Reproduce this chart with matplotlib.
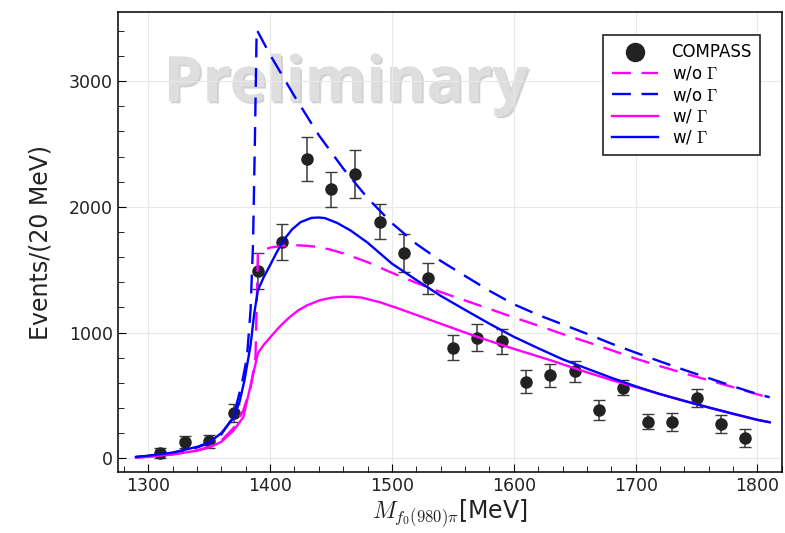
#! /usr/bin/env python
import numpy as np
import matplotlib
matplotlib.use('Agg')
import matplotlib.pyplot as plt
import matplotlib.patheffects as pe
from matplotlib.lines import Line2D
from matplotlib.ticker import MultipleLocator

# COMPASS data points (20 MeV bins)
mass = [1310, 1330, 1350, 1370, 1390, 1410, 1430, 1450, 1470, 1490, 1510, 1530, 1550,
        1570, 1590, 1610, 1630, 1650, 1670, 1690, 1710, 1730, 1750, 1770, 1790]
events = [40, 130, 135, 360, 1490, 1720, 2380, 2140, 2260, 1880, 1630, 1430, 880,
          960, 930, 610, 660, 690, 380, 560, 290, 290, 480, 270, 160]
errors = [40, 50, 50, 70, 140, 140, 175, 140, 190, 140, 150, 120, 100,
          110, 100, 90, 90, 80, 80, 60, 60, 70, 70, 70, 70]

# w/o Gamma, magenta (dashed)
m_nog_x = [1290, 1300, 1320, 1340, 1350, 1360, 1370, 1378, 1384, 1388, 1389, 1390, 1400,
           1410, 1420, 1430, 1440, 1450, 1460, 1480, 1500, 1520, 1540, 1560, 1580, 1600,
           1620, 1640, 1660, 1680, 1700, 1720, 1740, 1760, 1780, 1800, 1810]
m_nog_y = [5, 12, 30, 62, 90, 140, 240, 380, 560, 800, 1200, 1640, 1675,
           1690, 1695, 1690, 1680, 1658, 1630, 1560, 1475, 1395, 1322, 1255, 1188, 1120,
           1055, 988, 925, 860, 792, 732, 675, 620, 565, 508, 480]

# w/o Gamma, blue (dashed)
b_nog_x = [1290, 1300, 1320, 1340, 1350, 1360, 1370, 1377, 1381, 1384, 1386, 1387.5, 1389,
           1400, 1420, 1440, 1460, 1480, 1500, 1520, 1540, 1560, 1580, 1600, 1620, 1640,
           1660, 1680, 1700, 1720, 1740, 1760, 1780, 1800, 1810]
b_nog_y = [10, 18, 40, 85, 120, 190, 330, 600, 800, 1180, 1700, 2500, 3410,
           3210, 2880, 2570, 2305, 2070, 1870, 1705, 1570, 1450, 1332, 1225, 1140, 1065,
           990, 912, 840, 770, 702, 637, 572, 510, 485]

# w/ Gamma, magenta (solid)
m_g_x = [1290, 1300, 1320, 1340, 1350, 1360, 1370, 1378, 1385, 1390, 1395, 1400, 1408,
         1416, 1423, 1430, 1441, 1450, 1460, 1468, 1475, 1490, 1505, 1520, 1540, 1570,
         1600, 1630, 1654, 1680, 1700, 1720, 1742, 1760, 1780, 1800, 1810]
m_g_y = [5, 12, 30, 60, 85, 130, 220, 326, 620, 835, 905, 960, 1048,
         1122, 1175, 1215, 1257, 1276, 1285, 1284, 1278, 1241, 1192, 1140, 1070, 965,
         870, 780, 702, 622, 566, 510, 452, 402, 352, 305, 286]

# w/ Gamma, blue (solid)
b_g_x = [1290, 1300, 1320, 1340, 1350, 1360, 1370, 1375, 1379, 1384, 1387, 1390, 1395,
         1400, 1405, 1411, 1418, 1425, 1434, 1440, 1445, 1455, 1466, 1480, 1500, 1520,
         1540, 1560, 1580, 1600, 1620, 1640, 1660, 1680, 1700, 1720, 1740, 1760, 1780,
         1800, 1810]
b_g_y = [10, 20, 45, 90, 125, 200, 320, 450, 620, 900, 1150, 1336, 1445,
         1535, 1630, 1734, 1820, 1878, 1912, 1915, 1910, 1872, 1812, 1715, 1548, 1418,
         1292, 1180, 1070, 966, 875, 787, 713, 640, 572, 510, 455, 404, 354, 305, 286]

plt.rcParams['mathtext.fontset'] = 'cm'

fig = plt.figure(figsize=(7.85, 5.33), dpi=100)
ax = fig.add_axes([0.150, 0.1144, 0.846, 0.8631])

# watermark
ax.text(0.343, 0.806, 'Preliminary', transform=ax.transAxes, ha='center', va='baseline',
        fontsize=45, fontweight='bold', family='Open Sans', color='#dedede', zorder=1,
        path_effects=[pe.withSimplePatchShadow(offset=(1.5, -1.5), shadow_rgbFace='0.6', alpha=0.45),
                      pe.Normal()])

ax.errorbar(mass, events, yerr=errors, fmt='o', color='#222222', ms=8, ecolor='#3a3a3a',
            elinewidth=1.1, capsize=4.5, capthick=1.0, zorder=3)

dash = (0, (8, 4.5))
l1, = ax.plot(m_nog_x, m_nog_y, color='#ff00ff', lw=1.7, ls=dash, zorder=4)
l2, = ax.plot(b_nog_x, b_nog_y, color='#0000ff', lw=1.7, ls=dash, zorder=4)
l3, = ax.plot(m_g_x, m_g_y, color='#ff00ff', lw=1.7, zorder=4)
l4, = ax.plot(b_g_x, b_g_y, color='#0000ff', lw=1.7, zorder=4)

ax.set_xlim(1275, 1820)
ax.set_ylim(-110, 3550)
ax.xaxis.set_major_locator(MultipleLocator(100))
ax.xaxis.set_minor_locator(MultipleLocator(20))
ax.yaxis.set_major_locator(MultipleLocator(1000))
ax.yaxis.set_minor_locator(MultipleLocator(200))
ax.tick_params(which='both', direction='in', top=False, right=False, labelsize=12.5,
               labelcolor='#222222')
ax.tick_params(which='major', length=6)
ax.tick_params(which='minor', length=4)
ax.grid(True, which='major', color='#e8e8e8', lw=0.8, zorder=0)
for s in ax.spines.values():
    s.set_linewidth(1.1)

ax.set_ylabel('Events/(20 MeV)', fontsize=17, color='#222222', labelpad=12)
ax.set_xlabel(r'$M_{f_0(980)\pi}$[MeV]', fontsize=17, color='#222222', labelpad=2)

pt = Line2D([], [], ls='none', marker='o', color='#222222', ms=13)
leg = ax.legend([pt, l1, l2, l3, l4],
                ['COMPASS', r'w/o $\Gamma$', r'w/o $\Gamma$', r'w/ $\Gamma$', r'w/ $\Gamma$'],
                loc='upper right', bbox_to_anchor=(0.98, 0.968), fontsize=12,
                fancybox=False, edgecolor='#222222', framealpha=1, labelspacing=0.2,
                handlelength=2.8, borderpad=0.5)
leg.get_frame().set_linewidth(1.2)

fig.savefig('out.png', dpi=100)
